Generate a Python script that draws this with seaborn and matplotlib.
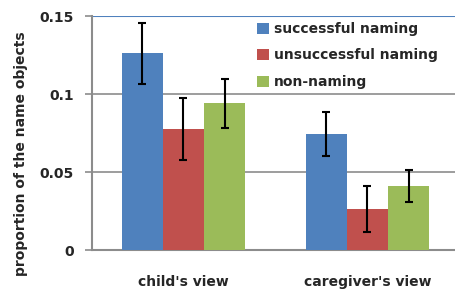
import matplotlib
matplotlib.use("Agg")
import matplotlib.pyplot as plt
import seaborn as sns
import pandas as pd
import numpy as np

categories = ["child's view", "caregiver's view"]
series = ["successful naming", "unsuccessful naming", "non-naming"]
values = {
    "successful naming": [0.126, 0.0745],
    "unsuccessful naming": [0.0775, 0.0265],
    "non-naming": [0.094, 0.041],
}
errors = {
    "successful naming": [0.0196, 0.014],
    "unsuccessful naming": [0.020, 0.0148],
    "non-naming": [0.0156, 0.010],
}
yticks = [0, 0.05, 0.1, 0.15]
ytick_labels = ["0", "0.05", "0.1", "0.15"]
colors = ["#4F81BD", "#C0504D", "#9BBB59"]

rows = []
for s in series:
    for c, v, e in zip(categories, values[s], errors[s]):
        rows.append({"view": c, "type": s, "value": v, "err": e})
df = pd.DataFrame(rows)

sns.set_style("white")
plt.rcParams["font.family"] = ["DejaVu Sans"]
plt.rcParams["font.weight"] = "bold"

fig = plt.figure(figsize=(4.56, 2.92), dpi=100)
ax = fig.add_axes([92 / 456, 1 - 250 / 292, 1 - 92 / 456, (250 - 16) / 292])

sns.barplot(data=df, x="view", y="value", hue="type", order=categories,
            hue_order=series, palette=colors, width=0.67, errorbar=None,
            saturation=1, ax=ax, zorder=3, linewidth=0, edgecolor="none")

# error bars aligned to bar patches
for i, s in enumerate(series):
    cont = ax.containers[i]
    for bar, c in zip(cont, categories):
        r = df[(df["type"] == s) & (df["view"] == c)].iloc[0]
        xc = bar.get_x() + bar.get_width() / 2
        ax.errorbar(xc, r["value"], yerr=r["err"], fmt="none", ecolor="black",
                    elinewidth=1.5, capsize=3, capthick=1.5, zorder=4)

ax.set_xlim(-0.497, 1.481)
ax.set_ylim(0, 0.15)
ax.set_yticks(yticks)
ax.set_yticklabels(ytick_labels, fontsize=10, fontweight="bold")
for t in [0.05, 0.1]:
    ax.axhline(t, color="#8C8C8C", lw=1.2, zorder=1)
ax.axhline(0.15, color="#4F81BD", lw=1.5, zorder=1)

ax.set_xticks([0, 1])
ax.set_xticklabels(categories, fontsize=10, fontweight="bold")
ax.set_xticks([-0.497, 0.5], minor=True)
ax.tick_params(axis="x", which="major", length=0, pad=18)
ax.tick_params(axis="x", which="minor", length=5, color="#8C8C8C", width=1.2, direction="out")
ax.tick_params(axis="y", length=5, color="#8C8C8C", width=1.2, direction="out", pad=8, left=True)

for sp in ["top", "right"]:
    ax.spines[sp].set_visible(False)
for sp in ["left", "bottom"]:
    ax.spines[sp].set_color("#8C8C8C")
    ax.spines[sp].set_linewidth(1.5)

ax.set_xlabel("")
ax.set_ylabel("proportion of the name objects", fontsize=10, fontweight="bold")
ax.yaxis.set_label_coords(-0.175, 0.41)

leg = ax.legend(loc="upper left", bbox_to_anchor=(0.453, 0.975), frameon=False,
                prop={"size": 10, "weight": "bold"}, handlelength=0.85, handleheight=0.85,
                handletextpad=0.4, labelspacing=0.9, borderpad=0, borderaxespad=0)
leg.set_zorder(5)

fig.savefig("out.png", dpi=100)
